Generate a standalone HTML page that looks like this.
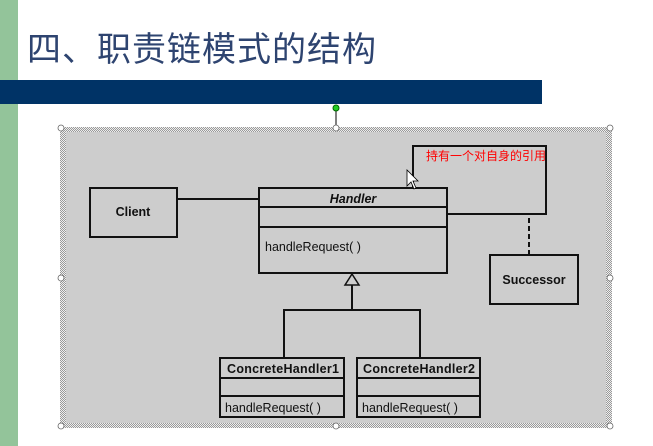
<!DOCTYPE html>
<html><head><meta charset="utf-8"><style>
body{margin:0;width:653px;height:446px;overflow:hidden;background:#fff;position:relative;font-family:"Liberation Sans","Noto Sans CJK SC",sans-serif}
</style></head><body>
<div style="position:absolute;left:0;top:0;width:18px;height:446px;background:#93c49a"></div>
<div style="position:absolute;left:18px;top:0;width:30px;height:30px;background:#fff;border-top-left-radius:30px"></div>
<div style="position:absolute;left:27px;top:22px;font-size:34px;color:#2e4470;font-family:'Noto Sans CJK SC',sans-serif;letter-spacing:1px">四、职责链模式的结构</div>
<div style="position:absolute;left:0;top:80px;width:542px;height:24px;background:#003366"></div>
<svg width="653" height="446" style="position:absolute;left:0;top:0">
<defs><pattern id="d" width="2" height="2" patternUnits="userSpaceOnUse"><rect width="2" height="2" fill="#eee"/><rect width="1" height="1" fill="#999"/><rect x="1" y="1" width="1" height="1" fill="#999"/></pattern></defs>
<line x1="336" y1="108" x2="336" y2="129" stroke="#000"/>
<circle cx="336" cy="108" r="3" fill="#2c2" stroke="#060"/>
<rect x="60" y="127" width="552" height="301" fill="url(#d)"/>
<rect x="66" y="132" width="540" height="291" fill="#cdcdcd"/>
<g fill="#fff" stroke="#666" stroke-width="0.8">
<circle cx="61" cy="128" r="3"/><circle cx="336" cy="128" r="3"/><circle cx="610" cy="128" r="3"/>
<circle cx="61" cy="278" r="3"/><circle cx="610" cy="278" r="3"/>
<circle cx="61" cy="426" r="3"/><circle cx="336" cy="426" r="3"/><circle cx="610" cy="426" r="3"/></g>
<g fill="none" stroke="#111" stroke-width="2">
<rect x="90" y="188" width="87" height="49"/>
<line x1="177" y1="199" x2="259" y2="199"/>
<rect x="259" y="188" width="188" height="85"/>
<line x1="259" y1="207" x2="447" y2="207"/>
<line x1="259" y1="227" x2="447" y2="227"/>
<polyline points="447,214 546,214 546,146 413,146 413,188"/>
<line x1="529" y1="218" x2="529" y2="254" stroke-dasharray="5,3"/>
<rect x="490" y="255" width="88" height="49"/>
<polygon points="352,274 345,285 359,285" stroke-width="1.5"/>
<polyline points="352,285 352,310"/>
<polyline points="284,358 284,310 420,310 420,358"/>
<rect x="220" y="358" width="124" height="59"/>
<line x1="220" y1="378" x2="344" y2="378"/><line x1="220" y1="396" x2="344" y2="396"/>
<rect x="357" y="358" width="123" height="59"/>
<line x1="357" y1="378" x2="480" y2="378"/><line x1="357" y1="396" x2="480" y2="396"/>
</g>
<g font-family="Liberation Sans,sans-serif" fill="#111">
<text x="133" y="216" font-size="12.5" font-weight="bold" text-anchor="middle">Client</text>
<text x="353" y="203" font-size="12.5" font-weight="bold" font-style="italic" text-anchor="middle">Handler</text>
<text x="265" y="251" font-size="12.5">handleRequest( )</text>
<text x="534" y="284" font-size="12.5" font-weight="bold" text-anchor="middle">Successor</text>
<text x="283" y="373" font-size="12.5" font-weight="bold" text-anchor="middle" textLength="112">ConcreteHandler1</text>
<text x="419" y="373" font-size="12.5" font-weight="bold" text-anchor="middle" textLength="112">ConcreteHandler2</text>
<text x="225" y="412" font-size="12.5">handleRequest( )</text>
<text x="362" y="412" font-size="12.5">handleRequest( )</text>
</g>
<text x="426" y="160" font-size="12" fill="#f00" font-family="Noto Sans CJK SC,sans-serif">持有一个对自身的引用</text>
<path d="M407,170 l0,16 l4,-4 l3,7 l2,-1 l-3,-7 l5,0 z" fill="#fff" stroke="#000" stroke-width="0.8"/>
</svg>
</body></html>
